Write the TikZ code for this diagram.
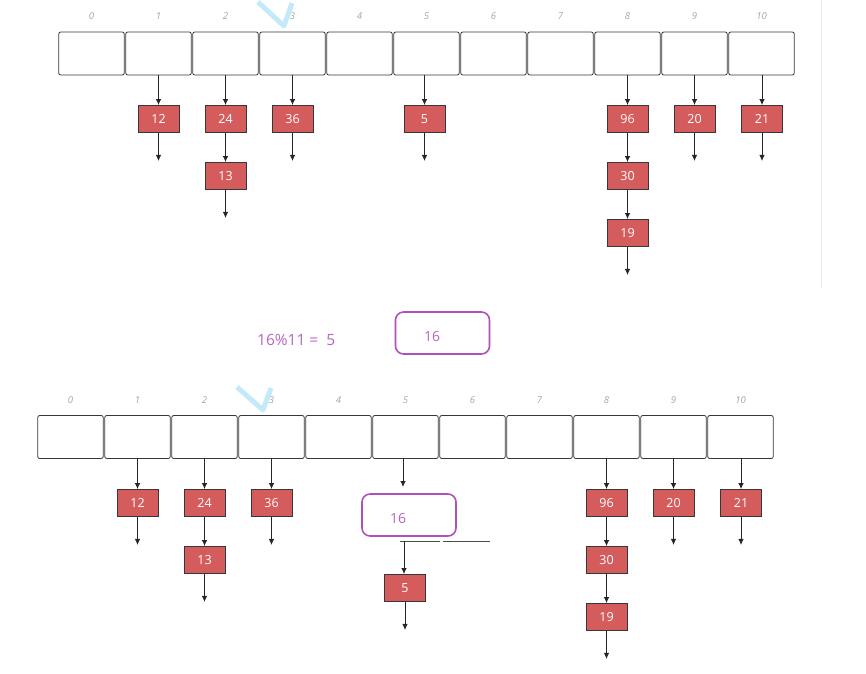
\documentclass[tikz,border=0pt]{standalone}
\usepackage{fontspec}
\setmainfont{Open Sans}
\usetikzlibrary{arrows.meta,calc}
\definecolor{redfill}{RGB}{212,92,92}
\definecolor{boxline}{RGB}{55,55,55}
\definecolor{purp}{RGB}{176,80,184}
\definecolor{purptext}{RGB}{184,100,196}
\definecolor{idxgray}{RGB}{165,165,170}
\definecolor{checkcyan}{RGB}{195,234,250}
\tikzset{
  cell/.style={draw=boxline, line width=0.8pt, rounded corners=2pt, minimum width=65.5pt, minimum height=43pt, inner sep=0pt},
  idx/.style={text=idxgray, font=\fontsize{9.5}{11}\selectfont\itshape, inner sep=0pt},
  rbox/.style={draw=boxline, line width=0.9pt, fill=redfill, minimum width=41pt, minimum height=27pt, inner sep=0pt, text=white, font=\fontsize{12.5}{14}\selectfont},
  pbox/.style={draw=purp, line width=1.6pt, rounded corners=8pt, minimum width=94pt, minimum height=42pt, inner sep=0pt},
  ptext/.style={text=purptext, font=\fontsize{14}{16}\selectfont, inner sep=0pt},
  arr/.style={draw=black!85, line width=0.8pt, -{Latex[length=6pt,width=5.5pt]}},
}
\begin{document}
\begin{tikzpicture}[x=1pt,y=-1pt]
\useasboundingbox (0,0) rectangle (866,673);
% separator line
\draw[black!8, line width=1pt] (821,0) -- (821,288);
% top array
\foreach \i in {0,...,10} {
  \node[cell] (t\i) at ({58+67*\i+33.5},53.5) {};
  \node[idx] (tl\i) at ({58+67*\i+33.5},16) {\i};
}
% check marks
\draw[checkcyan, line width=5pt, line join=round] (258,2) -- (284,26) -- (292,3);
\draw[checkcyan, line width=5pt, line join=round] (237,387) -- (263,410) -- (271,388);
% top chains
\node[rbox] (t1a) at (158.5,119) {12};
\node[rbox] (t2a) at (225.5,119) {24};
\node[rbox] (t2b) at (225.5,176) {13};
\node[rbox] (t3a) at (292.5,119) {36};
\node[rbox] (t5a) at (424.5,119) {5};
\node[rbox] (t8a) at (627.5,119) {96};
\node[rbox] (t8b) at (627.5,176) {30};
\node[rbox] (t8c) at (627.5,233) {19};
\node[rbox] (t9a) at (694.5,119) {20};
\node[rbox] (t10a) at (762,119) {21};
\foreach \c/\a in {t1/t1a,t2/t2a,t3/t3a,t5/t5a,t8/t8a,t9/t9a,t10/t10a} {
  \draw[arr] (\c.south -| \a.north) -- (\a.north);
}
\draw[arr] (t2a) -- (t2b);
\draw[arr] (t8a) -- (t8b);
\draw[arr] (t8b) -- (t8c);
\foreach \a in {t1a,t2b,t3a,t5a,t8c,t9a,t10a} {
  \coordinate (\a e) at ($(\a.south)+(0,28)$);
  \draw[arr] (\a.south) -- (\a e);
}
% middle
\node[ptext, anchor=west, font=\fontsize{15.5}{18}\selectfont] (eq) at (257,340) {16\%11 =\ \ 5};
\node[pbox] (pb1) at (442.5,333) {};
\node[ptext] (pt1) at (432,336) {16};
% bottom array
\foreach \i in {0,...,10} {
  \node[cell] (b\i) at ({37+67*\i+33.5},437) {};
  \node[idx] (bl\i) at ({37+67*\i+33.5},400) {\i};
}
\node[rbox] (b1a) at (137.5,503) {12};
\node[rbox] (b2a) at (204.5,503) {24};
\node[rbox] (b2b) at (204.5,560) {13};
\node[rbox] (b3a) at (271.5,503) {36};
\node[rbox] (b8a) at (606.5,503) {96};
\node[rbox] (b8b) at (606.5,560) {30};
\node[rbox] (b8c) at (606.5,617) {19};
\node[rbox] (b9a) at (673.5,503) {20};
\node[rbox] (b10a) at (741,503) {21};
\foreach \c/\a in {b1/b1a,b2/b2a,b3/b3a,b8/b8a,b9/b9a,b10/b10a} {
  \draw[arr] (\c.south -| \a.north) -- (\a.north);
}
\draw[arr] (b2a) -- (b2b);
\draw[arr] (b8a) -- (b8b);
\draw[arr] (b8b) -- (b8c);
\foreach \a in {b1a,b2b,b3a,b8c,b9a,b10a} {
  \coordinate (\a e) at ($(\a.south)+(0,28)$);
  \draw[arr] (\a.south) -- (\a e);
}
% inserted 16
\node[pbox] (pb2) at (409,515) {};
\node[ptext] (pt2) at (398,518) {16};
\coordinate (b5in) at (403,487);
\draw[arr] (b5.south -| b5in) -- (b5in);
\node[rbox] (b5a) at (405,588) {5};
\coordinate (sp1) at (400,541);
\coordinate (sp2) at (440,541);
\coordinate (sp3) at (443,541);
\coordinate (sp4) at (490,541);
\draw[black!70, line width=0.7pt] (sp1) -- (sp2);
\draw[black!70, line width=0.7pt] (sp3) -- (sp4);
\coordinate (s5) at (404,541);
\draw[arr] (s5) -- (b5a.north -| s5);
\coordinate (b5ae) at ($(b5a.south)+(0,28)$);
\draw[arr] (b5a.south) -- (b5ae);
\end{tikzpicture}
\end{document}
